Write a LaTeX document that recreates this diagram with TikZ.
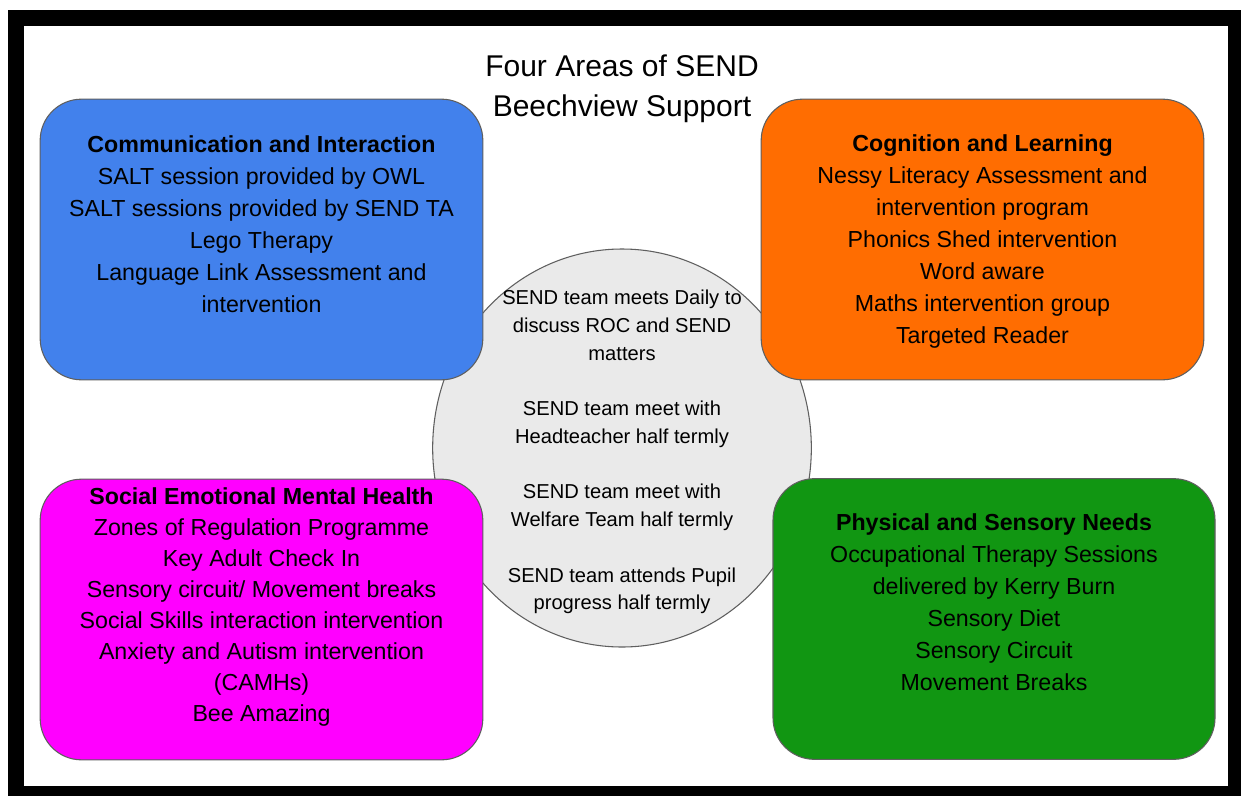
\documentclass[tikz,border=0pt]{standalone}
\usepackage{fontspec}
\setmainfont{Liberation Sans}
\usetikzlibrary{positioning,shapes.geometric}

\definecolor{commblue}{RGB}{66,129,236}
\definecolor{cognorange}{RGB}{255,109,1}
\definecolor{semhpink}{RGB}{255,0,255}
\definecolor{physgreen}{RGB}{17,150,18}
\definecolor{hubgrey}{RGB}{234,234,234}
\definecolor{edgegrey}{RGB}{95,95,95}

\begin{document}
\begin{tikzpicture}[x=0.75pt,y=-0.75pt]
	\tikzstyle{area}=[draw=edgegrey, line width=0.8pt, rounded corners=31pt, minimum width=332pt, minimum height=210.5pt, inner sep=0pt]
	\tikzstyle{areatext}=[anchor=north, align=center, inner sep=0pt, font=\fontsize{17.4}{24}\selectfont]
	\tikzstyle{hubtext}=[anchor=north, align=center, inner sep=0pt, font=\fontsize{15.1}{20.8}\selectfont]
	\useasboundingbox (0,0) rectangle (1241,796);
	% frame
	\fill[black] (8,10) rectangle (1241,796);
	\fill[white] (24,26) rectangle (1228,786);
	\node[anchor=north, align=center, inner sep=0pt, font=\fontsize{22.5}{30}\selectfont] (title) at (622,55) {Four Areas of SEND\\Beechview Support};
	% middle
	\node[ellipse, draw=edgegrey, fill=hubgrey, line width=0.8pt, minimum width=284pt, minimum height=298.5pt, inner sep=0pt] (hub) at (622,448) {};
	% four areas
	\node[area, fill=commblue] (comm) at (261.5,239.5) {};
	\node[area, fill=cognorange] (cogn) at (982.5,239.5) {};
	\node[area, fill=semhpink] (semh) at (261.5,619.5) {};
	\node[area, fill=physgreen, minimum width=331.5pt] (phys) at (994,619) {};
	\node[areatext] (commtext) at (261.5,135) {\textbf{Communication and Interaction}\\SALT session provided by OWL\\SALT sessions provided by SEND TA\\Lego Therapy\\Language Link Assessment and\\intervention};
	\node[areatext] (cogntext) at (982.5,134) {\textbf{Cognition and Learning}\\Nessy Literacy Assessment and\\intervention program\\Phonics Shed intervention\\Word aware\\Maths intervention group\\Targeted Reader};
	\node[areatext, font=\fontsize{17.4}{23.3}\selectfont] (semhtext) at (261.5,487) {\textbf{Social Emotional Mental Health}\\Zones of Regulation Programme\\Key Adult Check In\\Sensory circuit/ Movement breaks\\Social Skills interaction intervention\\Anxiety and Autism intervention\\(CAMHs)\\Bee Amazing};
	\node[areatext] (phystext) at (994,513) {\textbf{Physical and Sensory Needs}\\Occupational Therapy Sessions\\delivered by Kerry Burn\\Sensory Diet\\Sensory Circuit\\Movement Breaks};
	\node[hubtext] (hubtext) at (622,290) {SEND team meets Daily to\\discuss ROC and SEND\\matters\\[20.8pt]SEND team meet with\\Headteacher half termly\\[20.8pt]SEND team meet with\\Welfare Team half termly\\[20.8pt]SEND team attends Pupil\\progress half termly};
\end{tikzpicture}
\end{document}
